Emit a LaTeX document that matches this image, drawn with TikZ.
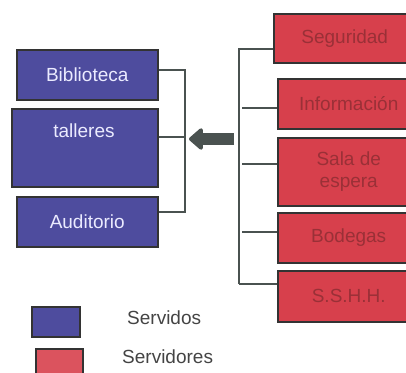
\documentclass[tikz,border=0pt]{standalone}
\usepackage{fontspec}
\setmainfont{Liberation Sans}
\usetikzlibrary{arrows.meta}
\definecolor{bluebox}{HTML}{4E4C9E}
\definecolor{redbox}{HTML}{D7404C}
\definecolor{redtext}{HTML}{9A3037}
\definecolor{edge}{HTML}{333333}
\definecolor{conn}{HTML}{4A5250}
\definecolor{legtext}{HTML}{444444}
\tikzset{
  box/.style={draw=edge, line width=1.5bp, inner sep=0pt, anchor=north west,
    font=\fontsize{19bp}{22bp}\selectfont},
  served/.style={box, fill=bluebox, text=white!92!blue},
  server/.style={box, fill=redbox, text=redtext, align=center},
  wire/.style={draw=conn, line width=1.6bp},
  legtxt/.style={text=legtext, font=\fontsize{19bp}{22bp}\selectfont, anchor=west, inner sep=0pt}
}
\begin{document}
\begin{tikzpicture}[x=1bp,y=-1bp]
\useasboundingbox (0,0) rectangle (406,373);
\clip (0,0) rectangle (406,373);
% served boxes
\node[served, minimum width=141bp, minimum height=50bp] (bib) at (16,49) {Biblioteca};
\node[served, minimum width=146bp, minimum height=78bp] (tal) at (11,108) {};
\node[text=white!92!blue, font=\fontsize{19bp}{22bp}\selectfont, inner sep=0pt] (taltxt) at (84,131) {talleres};
\node[served, minimum width=141bp, minimum height=50bp] (aud) at (16,196) {Auditorio};
% server boxes
\node[server, minimum width=140bp, minimum height=49bp] (seg) at (273,13) {\hspace*{2bp}Seguridad};
\node[server, minimum width=136bp, minimum height=50bp] (inf) at (277,78) {\hspace*{6bp}Información};
\node[server, minimum width=136bp, minimum height=68bp] (sala) at (277,137) {\hspace*{6bp}Sala de\\[0bp]\hspace*{6bp}espera};
\node[server, minimum width=136bp, minimum height=50bp] (bod) at (277,212) {\hspace*{6bp}Bodegas};
\node[server, minimum width=136bp, minimum height=51bp] (ss) at (277,270) {\hspace*{6bp}S.S.H.H.};
% left bracket
\coordinate (lb1) at (185,70);
\coordinate (lb2) at (185,137);
\coordinate (lb3) at (185,212);
\draw[wire] (bib.east |- lb1) -- (lb1) -- (lb3) -- (aud.east |- lb3);
\draw[wire] (tal.east |- lb2) -- (lb2);
% right bracket
\coordinate (rb1) at (239,49);
\coordinate (rb2) at (242,108);
\coordinate (rb3) at (242,164);
\coordinate (rb4) at (242,232);
\coordinate (rb5) at (239,284);
\draw[wire] (seg.west |- rb1) -- (rb1) -- (rb5);
\draw[wire] (rb2) -- (inf.west |- rb2);
\draw[wire] (rb3) -- (sala.west |- rb3);
\draw[wire] (rb4) -- (bod.west |- rb4);
\draw[wire] (rb5) -- (ss.west |- rb5);
% arrow
\coordinate (as) at (234,139);
\coordinate (ae) at (189,139);
\draw[conn, line width=12.5bp, -{Triangle[length=15bp,width=25bp,round]}] (as) -- (ae);
% legend
\node[box, fill=bluebox, minimum width=48bp, minimum height=30bp] (lgb) at (31,306) {};
\node[box, fill=redbox!90!white, minimum width=47bp, minimum height=32bp] (lgr) at (35,348) {};
\node[legtxt] (lgbt) at (127,318) {Servidos};
\node[legtxt] (lgrt) at (122,357) {Servidores};
\end{tikzpicture}
\end{document}
